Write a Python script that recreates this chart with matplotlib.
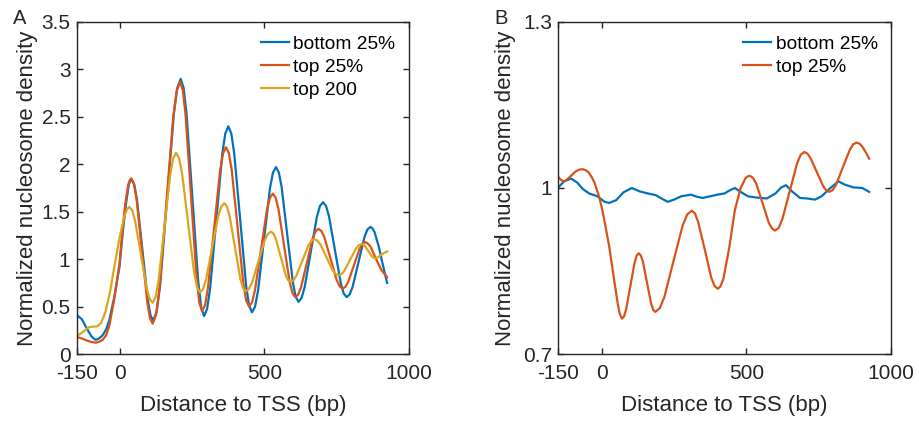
import numpy as np
import matplotlib
matplotlib.use("Agg")
import matplotlib.pyplot as plt

plt.rcParams["font.family"] = ["Liberation Sans", "DejaVu Sans"]

C_BLUE, C_RED, C_YEL = "#0072BD", "#D95319", "#DBA520"
AXC = "#262626"

# ---------- Panel A: nucleosome density around TSS ----------
xa_blue = [-150, -133, -117, -100, -92, -84, -72, -60, -48, -37, -20, -2, 10, 21, 30, 35, 40,
           49.4, 58.75, 77.5, 96.25, 105.6, 115,
           126.9, 138.75, 162.5, 186.25, 198.1, 210,
           220.1, 230.25, 250.5, 270.75, 280.9, 291,
           301.5, 312, 333, 354, 364.5, 375,
           385.25, 395.5, 416, 436.5, 446.75, 457,
           467.4, 477.75, 498.5, 519.25, 529.6, 540,
           549.75, 559.5, 579, 598.5, 608.25, 618,
           628.6, 639.25, 660.5, 681.75, 692.4, 703,
           713.25, 723.5, 744, 764.5, 774.75, 785,
           795.25, 805.5, 826, 846.5, 856.75, 867,
           874, 881.5, 896, 910.5, 925]
ya_blue = [0.41, 0.37, 0.28, 0.19, 0.165, 0.15, 0.165, 0.20, 0.26, 0.36, 0.60, 0.92, 1.30, 1.59, 1.78, 1.825, 1.84,
           1.783, 1.622, 1.095, 0.568, 0.407, 0.35,
           0.447, 0.722, 1.625, 2.528, 2.803, 2.90,
           2.805, 2.535, 1.65, 0.765, 0.495, 0.40,
           0.476, 0.692, 1.40, 2.108, 2.324, 2.40,
           2.326, 2.114, 1.42, 0.726, 0.514, 0.44,
           0.498, 0.663, 1.205, 1.747, 1.912, 1.97,
           1.916, 1.763, 1.26, 0.757, 0.604, 0.55,
           0.59, 0.703, 1.075, 1.447, 1.56, 1.60,
           1.562, 1.454, 1.10, 0.746, 0.638, 0.60,
           0.628, 0.708, 0.97, 1.232, 1.312, 1.34,
           1.325, 1.285, 1.134, 0.935, 0.75]

xa_red = [-150, -133, -117, -100, -83, -72, -60, -48, -37, -20, -2, 9, 20, 28, 34, 39,
          48.25, 57.5, 76, 94.5, 103.75, 113,
          124.9, 136.75, 160.5, 184.25, 196.1, 208,
          217.5, 227, 246, 265, 274.5, 284,
          294.4, 304.75, 325.5, 346.25, 356.6, 367,
          377, 387, 407, 427, 437, 447,
          457.25, 467.5, 488, 508.5, 518.75, 529,
          538.75, 548.5, 568, 587.5, 597.25, 607,
          617, 627, 647, 667, 677, 687,
          697.5, 708, 729, 750, 760.5, 771,
          780.75, 790.5, 810, 829.5, 839.25, 849,
          858, 868, 887, 906, 925]
ya_red = [0.18, 0.165, 0.145, 0.128, 0.12, 0.13, 0.15, 0.20, 0.30, 0.58, 0.95, 1.33, 1.63, 1.78, 1.835, 1.85,
          1.792, 1.627, 1.085, 0.543, 0.378, 0.32,
          0.417, 0.692, 1.595, 2.498, 2.773, 2.87,
          2.778, 2.517, 1.66, 0.803, 0.542, 0.45,
          0.516, 0.703, 1.315, 1.927, 2.114, 2.18,
          2.116, 1.935, 1.34, 0.745, 0.564, 0.50,
          0.545, 0.674, 1.095, 1.516, 1.645, 1.69,
          1.649, 1.531, 1.145, 0.759, 0.641, 0.60,
          0.627, 0.705, 0.96, 1.215, 1.293, 1.32,
          1.296, 1.228, 1.005, 0.782, 0.714, 0.69,
          0.709, 0.762, 0.935, 1.108, 1.161, 1.18,
          1.165, 1.13, 1.00, 0.88, 0.81]

xa_yel = [-150, -130, -110, -95, -80, -65, -50, -35, -20, 0, 15, 24, 32,
          42.1, 52.25, 72.5, 92.75, 102.9, 113,
          123.1, 133.25, 153.5, 173.75, 183.9, 194,
          204.4, 214.75, 235.5, 256.25, 266.6, 277,
          287.5, 298, 319, 340, 350.5, 361,
          370.25, 379.5, 398, 416.5, 425.75, 435,
          446, 457, 479, 501, 512, 523,
          531.4, 539.75, 556.5, 573.25, 581.6, 590,
          600.4, 610.75, 631.5, 652.25, 662.6, 673,
          683.5, 694, 715, 736, 746.5, 757,
          767, 777, 797, 817, 827, 837,
          842.75, 848.5, 860, 871.5, 877.25, 883,
          893, 904, 914, 925]
ya_yel = [0.19, 0.23, 0.28, 0.29, 0.29, 0.33, 0.45, 0.65, 0.92, 1.25, 1.45, 1.525, 1.55,
          1.512, 1.403, 1.045, 0.687, 0.578, 0.54,
          0.60, 0.771, 1.33, 1.889, 2.06, 2.12,
          2.064, 1.905, 1.385, 0.865, 0.706, 0.65,
          0.686, 0.787, 1.12, 1.453, 1.554, 1.59,
          1.555, 1.454, 1.125, 0.796, 0.695, 0.66,
          0.684, 0.752, 0.975, 1.198, 1.266, 1.29,
          1.27, 1.213, 1.025, 0.837, 0.78, 0.76,
          0.777, 0.826, 0.985, 1.144, 1.193, 1.21,
          1.196, 1.155, 1.02, 0.885, 0.844, 0.83,
          0.843, 0.878, 0.995, 1.112, 1.147, 1.16,
          1.154, 1.138, 1.085, 1.032, 1.016, 1.01,
          1.018, 1.045, 1.066, 1.08]

# ---------- Panel B ----------
xb_blue = [-150, -130, -106, -85, -65, -43, -15, 10, 26, 50, 75, 104, 130, 160, 187,
           210, 228, 250, 275, 308, 330, 349, 375, 400, 424, 440, 460, 480, 505,
           530, 570, 600, 620, 637, 655, 685, 710, 737, 760, 790, 818, 840, 870,
           900, 924]
yb_blue = [1.001, 1.012, 1.017, 1.010, 0.998, 0.990, 0.985, 0.975, 0.973, 0.978, 0.992, 1.000, 0.994, 0.990, 0.987,
           0.980, 0.975, 0.979, 0.985, 0.988, 0.984, 0.982, 0.985, 0.988, 0.990, 0.995, 1.000, 0.993, 0.985,
           0.983, 0.981, 0.990, 1.001, 1.005, 0.995, 0.982, 0.981, 0.979, 0.985, 1.000, 1.012, 1.006, 1.001,
           1.000, 0.993]

xb_red = [-150, -140, -128, -110, -90, -78, -66, -55, -45, -35, -25, -9, 0, 9, 26, 43, 55, 62, 70,
          77.25, 84.5, 99, 113.5, 120.75, 128,
          135.1, 142.25, 156.5, 170.75, 177.9, 185,
          200.75, 216.5, 248, 279.5, 295.25, 311,
          322.25, 333.5, 356, 378.5, 389.75, 401,
          410, 420, 440, 460, 480, 497, 505, 512,
          522.9, 533.75, 555.5, 577.25, 588.1, 599,
          611.6, 624.25, 649.5, 674.75, 687.4, 700,
          710.75, 721.5, 743, 764.5, 775.25, 786,
          797.9, 809.75, 833.5, 857.25, 869.1, 881,
          891, 900, 913, 924]
yb_red = [1.020, 1.014, 1.012, 1.020, 1.030, 1.033, 1.034, 1.032, 1.028, 1.020, 1.010, 0.984, 0.965, 0.942, 0.894, 0.834, 0.792, 0.773, 0.764,
          0.768, 0.781, 0.823, 0.865, 0.878, 0.882,
          0.878, 0.867, 0.829, 0.791, 0.780, 0.776,
          0.783, 0.803, 0.868, 0.932, 0.952, 0.959,
          0.954, 0.938, 0.889, 0.838, 0.823, 0.818,
          0.822, 0.835, 0.890, 0.960, 1.000, 1.018, 1.021, 1.022,
          1.018, 1.008, 0.973, 0.937, 0.927, 0.923,
          0.928, 0.944, 0.994, 1.044, 1.060, 1.065,
          1.062, 1.054, 1.029, 1.004, 0.996, 0.993,
          0.996, 1.006, 1.038, 1.069, 1.079, 1.082,
          1.080, 1.075, 1.064, 1.053]

FS_TICK, FS_LAB, FS_LEG = 15, 16, 13.8
fig = plt.figure(figsize=(9.19, 4.21), dpi=100)
axA = fig.add_axes([0.0835, 0.159, 0.3613, 0.789])
axB = fig.add_axes([0.6075, 0.159, 0.3622, 0.789])


def style(ax, yticks, ylabels, ylim, ylab_x):
    ax.set_xlim(-150, 1000)
    ax.set_ylim(*ylim)
    ax.set_xticks([-150, 0, 500, 1000])
    ax.set_xticklabels(["-150", "0", "500", "1000"])
    ax.set_yticks(yticks)
    ax.set_yticklabels(ylabels)
    ax.tick_params(direction="in", top=True, right=True, length=4, width=1,
                   colors=AXC, labelsize=FS_TICK)
    ax.tick_params(axis="x", pad=7)
    ax.tick_params(axis="y", pad=4.5)
    for s in ax.spines.values():
        s.set_linewidth(1.0)
        s.set_color(AXC)
    ax.set_xlabel("Distance to TSS (bp)", fontsize=FS_LAB, color=AXC)
    ax.set_ylabel("Normalized nucleosome density", fontsize=FS_LAB, color=AXC)
    ax.xaxis.set_label_coords(0.5, -0.124)
    ax.yaxis.set_label_coords(ylab_x, 0.5)
    ax.legend(loc="upper right", frameon=False, fontsize=FS_LEG, handlelength=1.45,
              handletextpad=0.25, labelspacing=0.3, borderaxespad=0.3)


lw = 1.6
axA.plot(xa_blue, ya_blue, color=C_BLUE, lw=lw, label="bottom 25%")
axA.plot(xa_red, ya_red, color=C_RED, lw=lw, label="top 25%")
axA.plot(xa_yel, ya_yel, color=C_YEL, lw=lw, label="top 200")
style(axA, [0, 0.5, 1, 1.5, 2, 2.5, 3, 3.5],
      ["0", "0.5", "1", "1.5", "2", "2.5", "3", "3.5"], (0, 3.5), -0.117)

axB.plot(xb_blue, yb_blue, color=C_BLUE, lw=lw, label="bottom 25%")
axB.plot(xb_red, yb_red, color=C_RED, lw=lw, label="top 25%")
style(axB, [0.7, 1.0, 1.3], ["0.7", "1", "1.3"], (0.7, 1.3), -0.128)

fig.text(0.014, 0.978, "A", fontsize=14.5, color=AXC, va="top")
fig.text(0.538, 0.978, "B", fontsize=14.5, color=AXC, va="top")

fig.savefig("out.png", dpi=100)
